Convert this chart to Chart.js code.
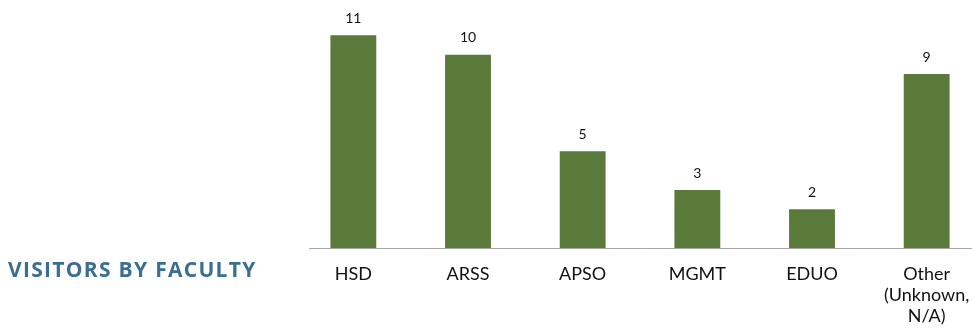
<!DOCTYPE html>
<html>
<head>
<meta charset="utf-8">
<script src="https://cdn.jsdelivr.net/npm/chart.js@4"></script>
<style>
  html, body { margin: 0; padding: 0; background: #fff; overflow: hidden; }
  #wrap { position: absolute; left: 0; top: 0; width: 984px; height: 329px; }
  #title {
    position: absolute; left: 8px; top: 255px; margin: 0;
    font: bold 21px 'Open Sans', sans-serif; color: #3b6e91; letter-spacing: 1.3px;
  }
</style>
</head>
<body>
<div id="wrap"><canvas id="facultyChart"></canvas></div>
<h1 id="title">VISITORS BY FACULTY</h1>
<script>
const faculties = ['HSD', 'ARSS', 'APSO', 'MGMT', 'EDUO', ['Other', '(Unknown,', 'N/A)']];
const visitors = [11, 10, 5, 3, 2, 9];

// value labels above each bar, plus the baseline that starts a little in from the left
const barValues = {
  id: 'barValues',
  afterDatasetsDraw(chart) {
    const { ctx, chartArea } = chart;
    const meta = chart.getDatasetMeta(0);
    ctx.save();
    ctx.strokeStyle = '#a6a6a6';
    ctx.lineWidth = 1;
    ctx.beginPath();
    ctx.moveTo(chartArea.left + 13, chartArea.bottom + 0.5);
    ctx.lineTo(chartArea.right, chartArea.bottom + 0.5);
    ctx.stroke();
    ctx.font = '14px Lato, sans-serif';
    ctx.fillStyle = '#111';
    ctx.textAlign = 'center';
    ctx.textBaseline = 'bottom';
    meta.data.forEach((bar, i) => ctx.fillText(visitors[i], bar.x, bar.y - 10));
    ctx.restore();
  }
};

new Chart(document.getElementById('facultyChart'), {
  type: 'bar',
  data: {
    labels: faculties,
    datasets: [{ data: visitors, backgroundColor: '#5a7a3a', barPercentage: 0.4, categoryPercentage: 1 }]
  },
  options: {
    responsive: true,
    maintainAspectRatio: false,
    animation: false,
    layout: { padding: { left: 296, top: 16, right: 0, bottom: 0 } },
    plugins: { legend: { display: false }, tooltip: { enabled: false } },
    scales: {
      x: {
        grid: { display: false },
        border: { display: false },
        ticks: { color: '#111', padding: 8, maxRotation: 0, font: { family: 'Lato', size: 18, lineHeight: 1.17 } },
        afterFit: (scale) => { scale.height = 81; }
      },
      y: { display: false, min: 0, max: 12 }
    }
  },
  plugins: [barValues]
});
</script>
</body>
</html>
